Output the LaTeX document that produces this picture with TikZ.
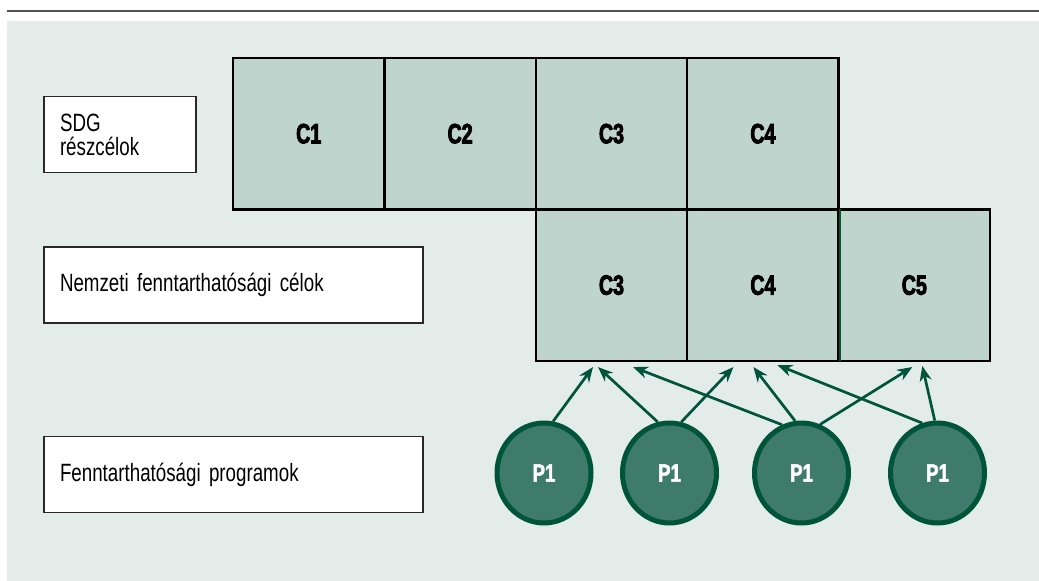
\documentclass[tikz,border=0pt]{standalone}
\usepackage{fontspec}
\setmainfont{Liberation Sans}
\newfontfamily\labfont{Liberation Sans}[FakeStretch=0.75]
\newfontfamily\cellfont{Liberation Sans Bold}[FakeStretch=0.70,FakeBold=3]
\newfontfamily\progfont{Liberation Sans Bold}[FakeStretch=0.75,FakeBold=2]
\usetikzlibrary{shapes.geometric,arrows.meta,calc}
\definecolor{bgpanel}{RGB}{227,236,232}
\definecolor{cellfill}{RGB}{191,212,204}
\definecolor{pfill}{RGB}{62,123,106}
\definecolor{pgreen}{RGB}{0,84,58}
\definecolor{rulegray}{RGB}{80,80,80}
\definecolor{boxedge}{RGB}{40,40,40}
\begin{document}
\begin{tikzpicture}[x=1pt,y=-1pt,
  cellbox/.style={rectangle, draw=black, line width=2.5pt, fill=cellfill,
    minimum width=151.4pt, minimum height=151.4pt, inner sep=0pt,
    font=\cellfont\fontsize{28}{28}\selectfont},
  labelbox/.style={rectangle, draw=boxedge, line width=1.5pt, fill=white,
    inner xsep=16pt, inner ysep=0pt, align=left, minimum height=76pt,
    font=\labfont\fontsize{25}{24}\selectfont},
  prog/.style={ellipse, draw=pgreen, fill=pfill, line width=5pt,
    minimum width=94pt, minimum height=100pt, inner sep=0pt, text=white,
    font=\progfont\fontsize{25}{25}\selectfont},
  arr/.style={draw=pgreen, line width=2.7pt, -{Stealth[length=15pt,width=12pt]}}]
\useasboundingbox (0,0) rectangle (1039,581);
\fill[white] (0,0) rectangle (1039,581);
\fill[bgpanel] (7,21) rectangle (1039,581);
\draw[rulegray, line width=2.5pt] (7,11) -- (1039,11);

% row labels
\node[labelbox, text width=120pt] (l1) at (120,134.5) {SDG\\részcélok};
\node[labelbox, text width=347pt] (l2) at (233.5,285) {Nemzeti fenntarthatósági célok};
\node[labelbox, text width=347pt] (l3) at (233.5,474.5) {Fenntarthatósági programok};

% SDG targets
\node[cellbox] (r1c1) at (308.7,133.7) {C1};
\node[cellbox] (r1c2) at (460.1,133.7) {C2};
\node[cellbox] (r1c3) at (611.5,133.7) {C3};
\node[cellbox] (r1c4) at (762.9,133.7) {C4};

% national targets
\node[cellbox] (r2c3) at (611.5,285.1) {C3};
\node[cellbox] (r2c4) at (762.9,285.1) {C4};
\node[cellbox] (r2c5) at (914.3,285.1) {C5};
\draw[cellfill, line width=2.6pt] ([yshift=-1.3pt]r2c4.north east) -- ([yshift=1.3pt]r2c4.south east);
\draw[pgreen, line width=1.5pt] ([yshift=-1.3pt]r2c4.north east) -- ([yshift=1.3pt]r2c4.south east);

% programmes
\node[prog] (p1) at (544,473) {P1};
\node[prog] (p2) at (669.5,473) {P1};
\node[prog] (p3) at (801.5,473) {P1};
\node[prog] (p4) at (937.5,473) {P1};

% links from programmes to national targets
\draw[arr] (p1.80) -- ([xshift=-18.5pt,yshift=-5pt]r2c3.south);
\draw[arr] (p2.103) -- ([xshift=-13.5pt,yshift=-5pt]r2c3.south);
\draw[arr] (p2.77) -- ([xshift=-29.5pt,yshift=-5pt]r2c4.south);
\draw[arr] (p3.112) -- ([xshift=21.5pt,yshift=-5pt]r2c3.south);
\draw[arr] (p3.97) -- ([xshift=-9.5pt,yshift=-5pt]r2c4.south);
\draw[arr] (p3.69) -- ([xshift=-2pt,yshift=-5pt]r2c5.south);
\draw[arr] (p4.107) -- ([xshift=14.5pt,yshift=-3pt]r2c4.south);
\draw[arr] (p4.93) -- ([xshift=8pt,yshift=-4pt]r2c5.south);
\end{tikzpicture}
\end{document}
